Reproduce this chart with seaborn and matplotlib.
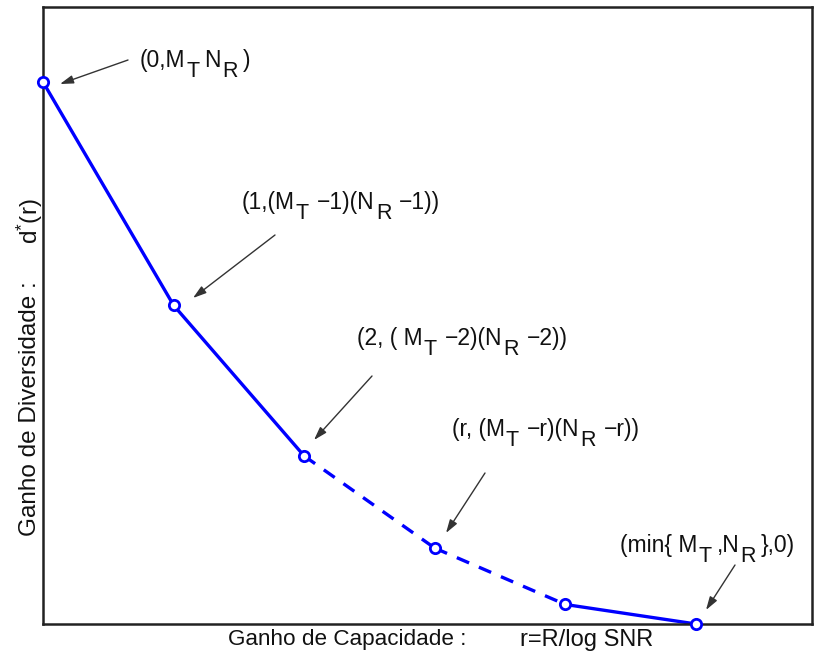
import matplotlib
matplotlib.use("Agg")
import matplotlib.pyplot as plt
import seaborn as sns
import pandas as pd

# ---- data ----
r_vals = [0, 1, 2, 3, 4, 5]
d_vals = [25.0, 14.7, 7.75, 3.5, 0.9, 0.0]
seg_dashed = [False, False, True, True, False]
# annotation labels as (text, is_subscript) pieces
labels = [
    [("(0,M", 0), ("T", 1), ("N", 0), ("R", 1), (")", 0)],
    [("(1,(M", 0), ("T", 1), ("\u22121)(N", 0), ("R", 1), ("\u22121))", 0)],
    [("(2, ( M", 0), ("T", 1), ("\u22122)(N", 0), ("R", 1), ("\u22122))", 0)],
    [("(r, (M", 0), ("T", 1), ("\u2212r)(N", 0), ("R", 1), ("\u2212r))", 0)],
    [("(min{ M", 0), ("T", 1), (",N", 0), ("R", 1), ("},0)", 0)],
]
xlabel_left = "Ganho de Capacidade :"
xlabel_right = "r=R/log SNR"
ylabel_left = "Ganho de Diversidade :"
ylabel_right = r"d$^{\mathregular{*}}$(r)"

sns.set_style("white")
plt.rcParams["font.family"] = ["Liberation Sans", "DejaVu Sans"]
plt.rcParams["mathtext.fontset"] = "custom"
plt.rcParams["mathtext.rm"] = "Liberation Sans"
plt.rcParams["mathtext.it"] = "Liberation Sans"
plt.rcParams["mathtext.default"] = "regular"

W, H = 819, 659
fig = plt.figure(figsize=(W / 100, H / 100), dpi=100)
ax = fig.add_axes([43 / W, (H - 624) / H, (812 - 43) / W, (624 - 7) / H])

blue = "#0000FF"
for i, dashed in enumerate(seg_dashed):
    seg = pd.DataFrame({"r": r_vals[i:i + 2], "d": d_vals[i:i + 2]})
    sns.lineplot(data=seg, x="r", y="d", ax=ax, color=blue, lw=2.4,
                 linestyle=(0, (4.0, 3.2)) if dashed else "-", clip_on=False)
pts = pd.DataFrame({"r": r_vals, "d": d_vals})
sns.scatterplot(data=pts, x="r", y="d", ax=ax, s=55, facecolor="white",
                edgecolor=blue, linewidth=2.0, clip_on=False, zorder=5)

ax.set_xlim(0, (812 - 43) / 130.6)
ax.set_ylim(0, (624 - 7) / 21.68)
ax.set_xticks([])
ax.set_yticks([])
ax.set_xlabel("")
ax.set_ylabel("")
for s in ax.spines.values():
    s.set_color("#222222")
    s.set_linewidth(1.8)

renderer = fig.canvas.get_renderer()


def rich_text(x_px, base_px, pieces, size=16.5, sub_size=15.5, sub_drop=10):
    x = x_px
    for txt, sub in pieces:
        if txt.startswith("\u2212"):
            x += 3
        y = H - base_px - (sub_drop if sub else 0)
        t = fig.text(x / W, y / H, txt, fontsize=sub_size if sub else size,
                     ha="left", va="baseline", color="#111111")
        x += t.get_window_extent(renderer).width + (5 if sub else 1)


# annotation layout in image pixels: text left x & baseline y, arrow tail, arrow head
ann_layout = [
    ((140, 67), (128, 60), (60, 84)),
    ((242, 209), (275, 235), (193, 298)),
    ((357, 345), (372, 376), (314, 440)),
    ((452, 436), (485, 473), (446, 533)),
    ((620, 552), (735, 565), (706, 610)),
]
for lab, (tp, tail, head) in zip(labels, ann_layout):
    rich_text(tp[0], tp[1], lab)
    ax.annotate("", xy=(head[0], H - head[1]), xycoords="figure pixels",
                xytext=(tail[0], H - tail[1]), textcoords="figure pixels",
                arrowprops=dict(arrowstyle="-|>,head_length=0.8,head_width=0.25",
                                color="#333333", lw=1.0, shrinkA=0, shrinkB=0))

fig.text(228 / W, (H - 640) / H, xlabel_left, fontsize=16.2, ha="left",
         va="center", color="#111111")
fig.text(653 / W, (H - 640) / H, xlabel_right, fontsize=17.0, ha="right",
         va="center", color="#111111")
fig.text(30 / W, (H - 536) / H, ylabel_left, fontsize=17.5, ha="center",
         va="bottom", rotation=90, color="#111111")
fig.text(30 / W, (H - 198) / H, ylabel_right, fontsize=17.5, ha="center",
         va="top", rotation=90, color="#111111")

fig.savefig("out.png", dpi=100)
